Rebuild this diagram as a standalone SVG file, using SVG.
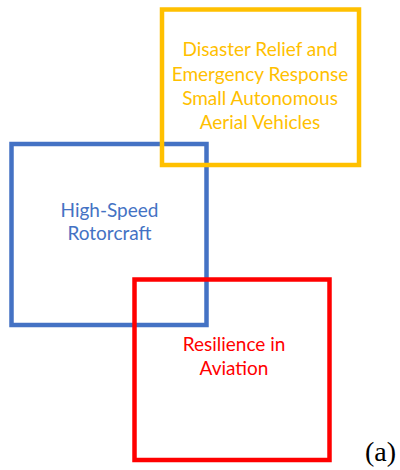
<svg xmlns="http://www.w3.org/2000/svg" width="400" height="470" viewBox="0 0 400 470">
<style>
.box{fill:none;stroke-width:4.5}
.t{font-family:Lato,"Liberation Sans",sans-serif;font-size:19px;text-anchor:middle}
</style>
<rect width="400" height="470" fill="#fff"/>
<g id="rotorcraft">
<rect class="box" x="11.5" y="144" width="195" height="181" stroke="#4472C4"/>
<text class="t" fill="#4472C4" x="109.5" y="217">High-Speed</text>
<text class="t" fill="#4472C4" x="109.5" y="240">Rotorcraft</text>
</g>
<g id="disaster">
<rect class="box" x="162" y="9.5" width="197" height="155.5" stroke="#FFC000"/>
<text class="t" fill="#FFC000" x="260" y="56">Disaster Relief and</text>
<text class="t" fill="#FFC000" x="260" y="81">Emergency Response</text>
<text class="t" fill="#FFC000" x="260" y="105">Small Autonomous</text>
<text class="t" fill="#FFC000" x="260" y="129">Aerial Vehicles</text>
</g>
<g id="resilience">
<rect class="box" x="134.5" y="279.5" width="195" height="180.5" stroke="#FF0000"/>
<text class="t" fill="#FF0000" x="234" y="351">Resilience in</text>
<text class="t" fill="#FF0000" x="234" y="375">Aviation</text>
</g>
<g id="connectors"/>
<text x="365" y="461" font-family="Liberation Serif,serif" font-size="28" fill="#000">(a)</text>
</svg>
